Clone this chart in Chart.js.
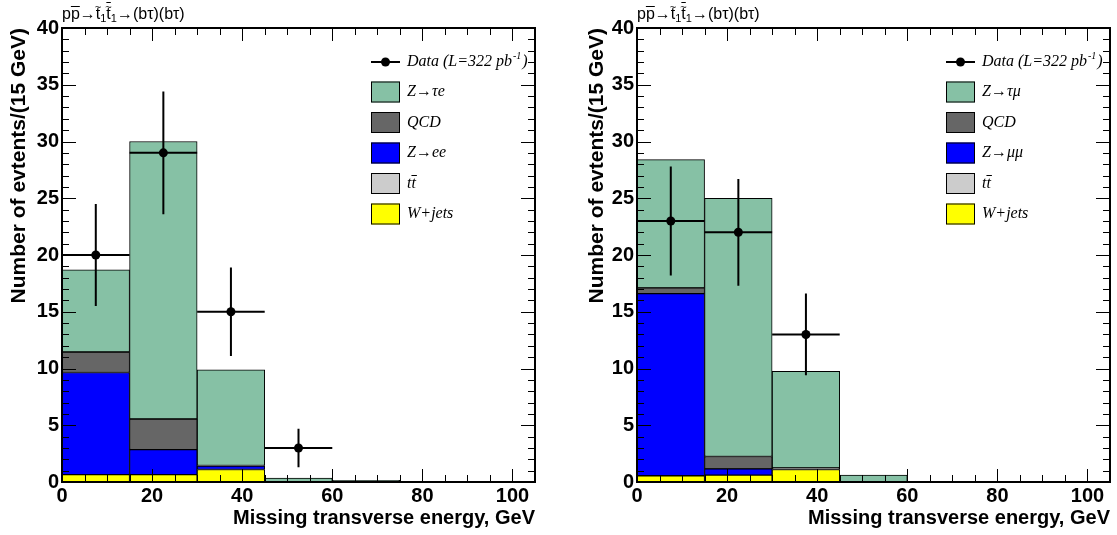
<!DOCTYPE html>
<html>
<head>
<meta charset="utf-8">
<script src="https://cdn.jsdelivr.net/npm/chart.js@4.4.1/dist/chart.umd.min.js"></script>
<style>
  body { margin: 0; background: #fff; width: 1117px; height: 535px; overflow: hidden; position: relative; }
  canvas { position: absolute; top: 0; }
  #chartLeft { left: 0; }
  #chartRight { left: 575px; }
</style>
</head>
<body>
<canvas id="chartLeft" width="575" height="535"></canvas>
<canvas id="chartRight" width="542" height="535"></canvas>
<script>
// Bins de 15 GeV (centros)
const binCenters = [7.5, 22.5, 37.5, 52.5, 67.5, 82.5, 97.5];
const xTicks = [0, 20, 40, 60, 80, 100];
const yTicks = [0, 5, 10, 15, 20, 25, 30, 35, 40];

// Canal electron (izquierda)
const wjetsE = [0.65, 0.65, 1.1, 0, 0, 0, 0];
const ttbarE = [0, 0, 0, 0, 0, 0, 0];
const zeeE = [9.0, 2.2, 0.3, 0, 0, 0, 0];
const qcdE = [1.8, 2.7, 0.05, 0, 0, 0, 0];
const ztaueE = [7.25, 24.45, 8.43, 0.35, 0.15, 0, 0];
const dataXE = [7.5, 22.5, 37.5, 52.5];
const dataE = [20, 29, 15, 3];
const dataErrE = [4.5, 5.4, 3.9, 1.7];

// Canal muon (derecha)
const wjetsM = [0.55, 0.6, 1.1, 0, 0, 0, 0];
const ttbarM = [0, 0, 0, 0, 0, 0, 0];
const zmmM = [16.05, 0.55, 0, 0, 0, 0, 0];
const qcdM = [0.5, 1.1, 0.15, 0, 0, 0, 0];
const ztaumM = [11.3, 22.75, 8.5, 0.6, 0.03, 0, 0];
const dataXM = [7.5, 22.5, 37.5];
const dataM = [23, 22, 13];
const dataErrM = [4.8, 4.7, 3.6];

const binHalf = 7.5;

// Colores
const cGreen = '#86c1a5';
const cQcd = '#666666';
const cBlue = '#0000ff';
const cTtbar = '#cccccc';
const cYellow = '#ffff00';

function toPoints(xs, ys) {
  return ys.map((v, i) => ({ x: xs[i], y: v }));
}

// Marco estilo ROOT con ticks hacia dentro
const framePlugin = {
  id: 'rootFrame',
  afterDatasetsDraw(chart) {
    const { ctx, chartArea: a } = chart;
    const xs = chart.scales.x, ys = chart.scales.y;
    ctx.save();
    ctx.strokeStyle = '#000';
    ctx.lineWidth = 1;
    ctx.beginPath();
    for (let v = 0; v <= 40; v++) {
      const len = v % 5 === 0 ? 14 : 7;
      const py = Math.round(ys.getPixelForValue(v)) + 0.5;
      ctx.moveTo(a.left, py); ctx.lineTo(a.left + len, py);
      ctx.moveTo(a.right, py); ctx.lineTo(a.right - len, py);
    }
    for (let v = 0; v <= 105; v += 5) {
      const len = v % 20 === 0 ? 13 : 7;
      const px = Math.round(xs.getPixelForValue(v)) + 0.5;
      ctx.moveTo(px, a.top); ctx.lineTo(px, a.top + len);
      ctx.moveTo(px, a.bottom); ctx.lineTo(px, a.bottom - len);
    }
    ctx.stroke();
    ctx.lineWidth = 2;
    ctx.strokeRect(a.left, a.top, a.right - a.left, a.bottom - a.top);
    ctx.restore();
  }
};

// Barras de error de los datos
const errorPlugin = {
  id: 'errorBars',
  afterDatasetsDraw(chart, args, opts) {
    const { ctx } = chart;
    const xs = chart.scales.x, ys = chart.scales.y;
    const ds = chart.data.datasets[0];
    ctx.save();
    ctx.strokeStyle = '#000';
    ctx.lineWidth = 2;
    ctx.beginPath();
    ds.data.forEach((p, i) => {
      const err = opts.errors[i];
      const px = xs.getPixelForValue(p.x), py = ys.getPixelForValue(p.y);
      ctx.moveTo(px, ys.getPixelForValue(p.y - err));
      ctx.lineTo(px, ys.getPixelForValue(p.y + err));
      ctx.moveTo(xs.getPixelForValue(p.x - binHalf), py);
      ctx.lineTo(xs.getPixelForValue(p.x + binHalf), py);
    });
    ctx.stroke();
    ctx.restore();
  }
};

// Texto del proceso arriba a la izquierda
const processPlugin = {
  id: 'processTitle',
  afterDraw(chart) {
    const { ctx, chartArea: a } = chart;
    const base = a.top - 9;
    let x = a.left;
    const big = '16px "Liberation Sans"';
    const small = '11px "Liberation Sans"';
    const parts = [
      { t: 'p' }, { t: 'p', bar: true }, { t: '\u2192' },
      { t: 't', tilde: true }, { t: '1', sub: true },
      { t: 't', tilde: true, bar: true }, { t: '1', sub: true },
      { t: '\u2192(b\u03c4)(b\u03c4)' }
    ];
    ctx.save();
    ctx.fillStyle = '#000';
    ctx.strokeStyle = '#000';
    ctx.lineWidth = 1;
    ctx.textBaseline = 'alphabetic';
    parts.forEach(p => {
      ctx.font = p.sub ? small : big;
      const w = ctx.measureText(p.t).width;
      ctx.fillText(p.t, x, p.sub ? base + 3 : base);
      if (p.tilde) {
        ctx.font = small;
        const tw = ctx.measureText('~').width;
        ctx.fillText('~', x + w / 2 - tw / 2, base - 8);
      }
      if (p.bar) {
        ctx.beginPath();
        const yb = p.tilde ? base - 16.5 : base - 12.5;
        ctx.moveTo(x, yb); ctx.lineTo(x + w, yb);
        ctx.stroke();
      }
      x += w;
    });
    ctx.restore();
  }
};

// Leyenda dentro del area
const legendPlugin = {
  id: 'rootLegend',
  afterDraw(chart, args, opts) {
    const { ctx, chartArea: a } = chart;
    const x0 = a.left + 309;
    const tx = a.left + 345;
    const font = 'italic 16px "Liberation Serif"';
    ctx.save();
    ctx.fillStyle = '#000';
    ctx.strokeStyle = '#000';
    ctx.textBaseline = 'middle';
    // datos
    let y = a.top + 34;
    ctx.lineWidth = 2;
    ctx.beginPath();
    ctx.moveTo(x0, y); ctx.lineTo(x0 + 29, y);
    ctx.stroke();
    ctx.beginPath();
    ctx.arc(x0 + 14.5, y, 4.5, 0, Math.PI * 2);
    ctx.fill();
    ctx.font = font;
    let s = 'Data (L=322 pb';
    ctx.fillText(s, tx, y);
    let w = ctx.measureText(s).width;
    ctx.font = 'italic 10px "Liberation Serif"';
    ctx.fillText('-1', tx + w + 1, y - 6);
    const w2 = ctx.measureText('-1').width;
    ctx.font = font;
    ctx.fillText(')', tx + w + w2 + 2, y);
    // cajas
    opts.items.forEach((it, i) => {
      const yc = a.top + 64 + i * 30.5;
      ctx.fillStyle = it.color;
      ctx.fillRect(x0, yc - 10.5, 29, 21);
      ctx.lineWidth = 1;
      ctx.strokeStyle = '#000';
      ctx.strokeRect(x0 + 0.5, yc - 10, 28, 20);
      ctx.fillStyle = '#000';
      ctx.font = font;
      ctx.fillText(it.label, tx, yc);
      if (it.overline) {
        const full = ctx.measureText(it.label).width;
        const last = ctx.measureText(it.label.slice(-1)).width;
        ctx.beginPath();
        ctx.moveTo(tx + full - last, yc - 8);
        ctx.lineTo(tx + full + 1, yc - 8);
        ctx.stroke();
      }
    });
    ctx.restore();
  }
};

function makeChart(id, s, padRight, yTitlePad) {
  const barDs = (label, vals, color) => ({
    type: 'bar',
    label: label,
    data: toPoints(binCenters, vals),
    backgroundColor: color,
    borderColor: '#000',
    borderWidth: 1,
    borderSkipped: false,
    barPercentage: 1,
    categoryPercentage: 1
  });
  return new Chart(document.getElementById(id), {
    type: 'bar',
    data: {
      datasets: [
        {
          type: 'scatter',
          label: 'Data',
          data: toPoints(s.dataX, s.data),
          backgroundColor: '#000',
          borderColor: '#000',
          pointRadius: 4.5,
          pointBorderWidth: 0
        },
        barDs('W+jets', s.wjets, cYellow),
        barDs('ttbar', s.ttbar, cTtbar),
        barDs(s.zllLabel, s.zll, cBlue),
        barDs('QCD', s.qcd, cQcd),
        barDs(s.ztauLabel, s.ztau, cGreen)
      ]
    },
    options: {
      responsive: false,
      animation: false,
      layout: { padding: { left: 0, right: padRight, top: 28, bottom: 0 } },
      scales: {
        x: {
          type: 'linear',
          min: 0,
          max: 105,
          offset: false,
          stacked: true,
          grid: { display: false, drawTicks: false },
          border: { display: false },
          afterBuildTicks: scale => { scale.ticks = xTicks.map(v => ({ value: v })); },
          afterFit: scale => { scale.height = 53; },
          ticks: {
            color: '#000',
            padding: 2,
            maxRotation: 0,
            font: { family: 'Liberation Sans', size: 20, weight: 'bold' }
          },
          title: {
            display: true,
            text: 'Missing transverse energy, GeV',
            align: 'end',
            color: '#000',
            padding: { top: 0, bottom: 5 },
            font: { family: 'Liberation Sans', size: 20, weight: 'bold' }
          }
        },
        y: {
          min: 0,
          max: 40,
          stacked: true,
          grid: { display: false, drawTicks: false },
          border: { display: false },
          afterBuildTicks: scale => { scale.ticks = yTicks.map(v => ({ value: v })); },
          afterFit: scale => { scale.width = 62; },
          ticks: {
            color: '#000',
            padding: 3,
            font: { family: 'Liberation Sans', size: 20, weight: 'bold' }
          },
          title: {
            display: true,
            text: 'Number of evtents/(15 GeV)',
            align: 'end',
            color: '#000',
            padding: { top: yTitlePad, bottom: 0 },
            font: { family: 'Liberation Sans', size: 21, weight: 'bold' }
          }
        }
      },
      plugins: {
        legend: { display: false },
        tooltip: { enabled: false },
        errorBars: { errors: s.dataErr },
        rootLegend: {
          items: [
            { label: s.ztauLabel, color: cGreen },
            { label: 'QCD', color: cQcd },
            { label: s.zllLabel, color: cBlue },
            { label: 'tt', color: cTtbar, overline: true },
            { label: 'W+jets', color: cYellow }
          ]
        }
      }
    },
    plugins: [errorPlugin, framePlugin, processPlugin, legendPlugin]
  });
}

makeChart('chartLeft', {
  wjets: wjetsE, ttbar: ttbarE, zll: zeeE, qcd: qcdE, ztau: ztaueE,
  dataX: dataXE, data: dataE, dataErr: dataErrE,
  zllLabel: 'Z\u2192ee', ztauLabel: 'Z\u2192\u03c4e'
}, 40, 7);

makeChart('chartRight', {
  wjets: wjetsM, ttbar: ttbarM, zll: zmmM, qcd: qcdM, ztau: ztaumM,
  dataX: dataXM, data: dataM, dataErr: dataErrM,
  zllLabel: 'Z\u2192\u03bc\u03bc', ztauLabel: 'Z\u2192\u03c4\u03bc'
}, 7, 10);
</script>
</body>
</html>
